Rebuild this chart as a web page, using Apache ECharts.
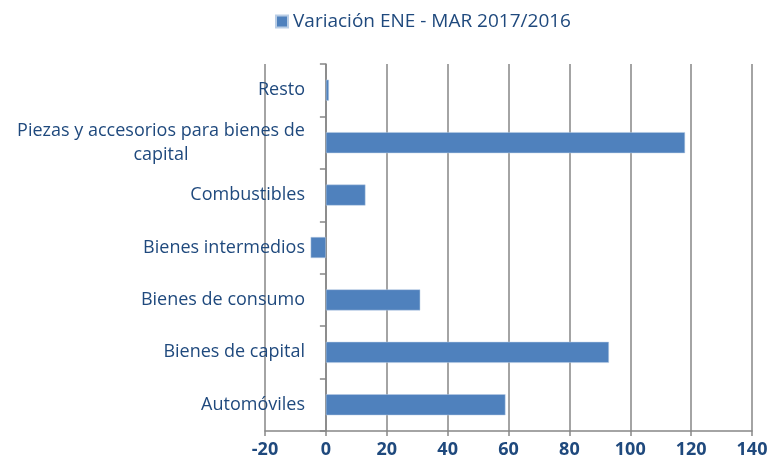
<!DOCTYPE html>
<html>
<head>
<meta charset="utf-8">
<script src="https://cdn.jsdelivr.net/npm/echarts@6/dist/echarts.min.js"></script>
<style>
  html, body { margin: 0; padding: 0; background: #fff; }
  #chart { width: 770px; height: 466px; }
</style>
</head>
<body>
<div id="chart"></div>
<script>
// categories bottom -> top (as they read on the category axis)
const categories = [
  'Automóviles',
  'Bienes de capital',
  'Bienes de consumo',
  'Bienes intermedios',
  'Combustibles',
  'Piezas y accesorios para bienes de\ncapital',
  'Resto'
]
const variacion = [59, 93, 31, -5, 13, 118, 1]
const seriesName = 'Variación ENE - MAR 2017/2016'
const xTicks = { min: -20, max: 140, interval: 20 }

const textColor = '#1F497D'
const gridColor = '#868686'
const barColor = '#4F81BD'
const font = 'Open Sans'

const chart = echarts.init(document.getElementById('chart'))

chart.setOption({
  animation: false,
  legend: {
    data: [seriesName],
    icon: 'rect',
    top: 7,
    left: 270,
    itemWidth: 12,
    itemHeight: 12,
    itemGap: 4,
    textStyle: { color: textColor, fontSize: 19, fontFamily: font }
  },
  grid: { left: 265, right: 18, top: 64, bottom: 35, outerBoundsMode: 'none' },
  xAxis: {
    type: 'value',
    min: xTicks.min,
    max: xTicks.max,
    interval: xTicks.interval,
    axisLine: { show: true, lineStyle: { color: gridColor, width: 1.5 } },
    axisTick: { show: true, length: 5, lineStyle: { color: gridColor, width: 1.5 } },
    axisLabel: { color: textColor, fontSize: 18, fontWeight: 'bold', fontFamily: font, margin: 10 },
    splitLine: { show: true, lineStyle: { color: gridColor, width: 1.5 } }
  },
  yAxis: {
    type: 'category',
    data: categories,
    axisLine: { show: true, onZero: true, lineStyle: { color: gridColor, width: 1.5 } },
    axisTick: { show: true, length: 6, lineStyle: { color: gridColor, width: 1.5 } },
    // labels stay at the grid edge, pull them over to the zero line
    axisLabel: {
      color: textColor, fontSize: 18, fontFamily: font, margin: -40, lineHeight: 24,
      // wrapped label is centred line by line, like the original
      formatter: (v) => v.indexOf('\n') < 0 ? v : v.split('\n').map(l => '{c|' + l + '}').join('\n'),
      rich: {
        c: { width: 288, align: 'center', color: textColor, fontSize: 18, fontFamily: font, lineHeight: 24 }
      }
    }
  },
  series: [{
    name: seriesName,
    type: 'bar',
    data: variacion,
    barWidth: 21,
    itemStyle: { color: barColor, borderColor: '#B9CDE5', borderWidth: 0.5 }
  }]
})
</script>
</body>
</html>
